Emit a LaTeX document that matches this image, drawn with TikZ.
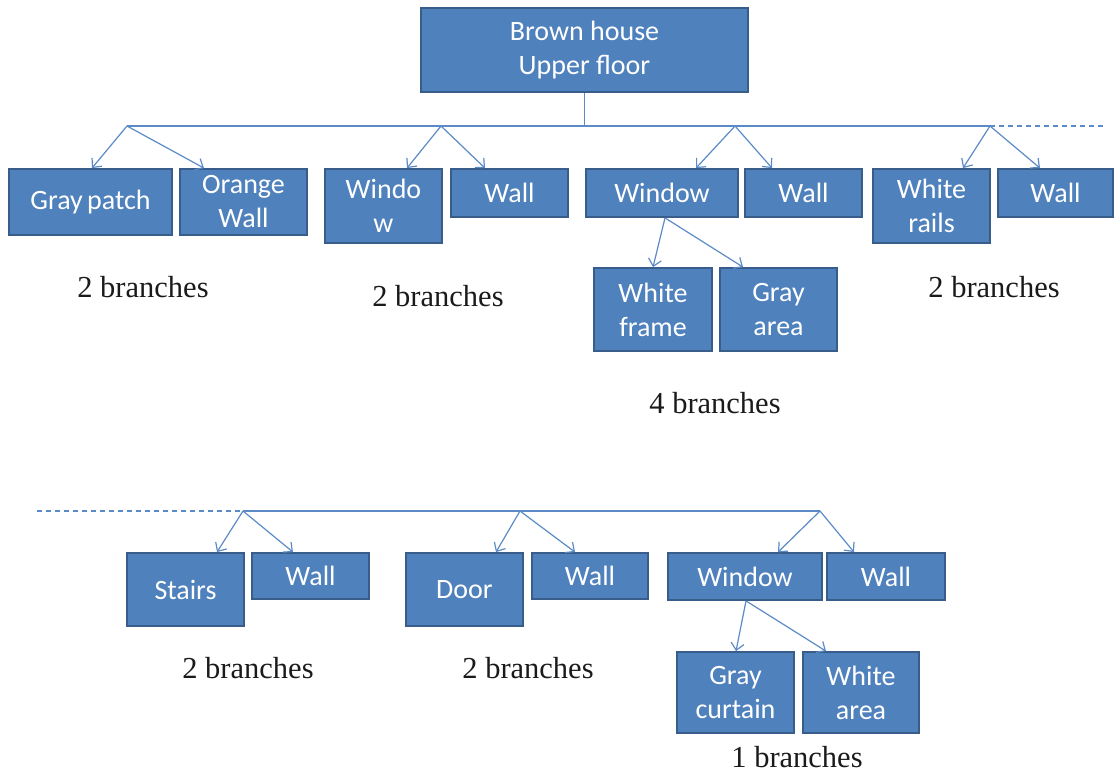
\documentclass[tikz,border=0pt]{standalone}
\usepackage{fontspec}
\newfontfamily\carlito{Carlito}
\newfontfamily\countfont{Liberation Serif}
\usetikzlibrary{arrows.meta}
\definecolor{boxfill}{HTML}{4F81BD}
\definecolor{boxedge}{HTML}{385D8A}
\definecolor{linkblue}{HTML}{5B8BC6}
\definecolor{labelink}{HTML}{1A1A1A}
\begin{document}
\begin{tikzpicture}[x=1pt,y=-1pt,
  part/.style={draw=boxedge, fill=boxfill, line width=1.8pt, text=white,
    font=\carlito\fontsize{28}{34}\selectfont, align=center, inner sep=0pt},
  link/.style={draw=linkblue, line width=1.2pt},
  arr/.style={link, -{Straight Barb[length=7pt,width=13pt,line width=1.2pt]}},
  rail/.style={link, dash pattern=on 5pt off 4pt},
  count/.style={text=labelink, font=\countfont\fontsize{30.5}{36}\selectfont, inner sep=0pt}]
\path[use as bounding box] (0,0) rectangle (1115,773);

% root
\node[part, minimum width=327, minimum height=84] (top) at (584.5,50) {Brown house\\Upper floor};

% first level, upper floor
\node[part, minimum width=163, minimum height=66] (gp)  at (90.5,202)  {Gray\hspace{-2pt} patch};
\node[part, minimum width=127, minimum height=66] (ow)  at (243.5,202) {Orange\\Wall};
\node[part, minimum width=117, minimum height=74] (wi1) at (383.5,206) {Windo\\w};
\node[part, minimum width=117, minimum height=48] (wa1) at (509.5,193) {Wall};
\node[part, minimum width=152, minimum height=48] (wi2) at (662,193)   {Window};
\node[part, minimum width=117, minimum height=48] (wa2) at (803.5,193) {Wall};
\node[part, minimum width=117, minimum height=74] (wr)  at (931.5,206) {White\\rails};
\node[part, minimum width=115, minimum height=48] (wa3) at (1055.5,193) {Wall};
\node[part, minimum width=118, minimum height=83] (wf)  at (653,309.5) {White\\frame};
\node[part, minimum width=117, minimum height=83] (gar) at (778.5,309.5) {Gray\\area};

% first level, lower row
\node[part, minimum width=117, minimum height=73] (st)  at (185.5,589.5) {Stairs};
\node[part, minimum width=117, minimum height=46] (wb1) at (310.5,576)   {Wall};
\node[part, minimum width=117, minimum height=73] (dr)  at (464.5,589.5) {Door};
\node[part, minimum width=116, minimum height=46] (wb2) at (590,576)     {Wall};
\node[part, minimum width=154, minimum height=47] (wi3) at (745,576.5)   {Window};
\node[part, minimum width=118, minimum height=47] (wb3) at (886,576.5)   {Wall};
\node[part, minimum width=117, minimum height=81] (gc)  at (735.5,692.5) {Gray\\curtain};
\node[part, minimum width=116, minimum height=81] (wha) at (861,692.5)   {White\\area};

% branch counts
\node[count] (n1) at (143,287) {2 branches};
\node[count] (n2) at (438,296) {2 branches};
\node[count] (n3) at (994,287) {2 branches};
\node[count] (n4) at (715,403) {4 branches};
\node[count] (n5) at (248,668) {2 branches};
\node[count] (n6) at (528,668) {2 branches};
\node[count] (n7) at (797,757) {1 branches};

% junction points
\coordinate (b1) at (127,126);
\coordinate (b2) at (441,126);
\coordinate (b3) at (735,126);
\coordinate (b4) at (990,126);
\coordinate (e1) at (1105,126);
\coordinate (c1) at (243,511);
\coordinate (c2) at (520,511);
\coordinate (c3) at (820,511);
\coordinate (e2) at (37,511);
\coordinate (e3) at (357,511);

% trunk lines
\draw[link] (top.south) -- (top.south |- b1);
\draw[link] (b1) -- (b4);
\draw[rail] (b4) -- (e1);
\draw[link] (c1) -- (c3);
\draw[rail] (e2) -- (e3);

% arrows, upper floor
\draw[arr] (b1) -- ([xshift=1.5pt]gp.north);
\draw[arr] (b1) -- ([xshift=-39.5pt]ow.north);
\draw[arr] (b2) -- ([xshift=23.5pt]wi1.north);
\draw[arr] (b2) -- ([xshift=-24.5pt]wa1.north);
\draw[arr] (b3) -- ([xshift=34pt]wi2.north);
\draw[arr] (b3) -- ([xshift=-31.5pt]wa2.north);
\draw[arr] (b4) -- ([xshift=31.5pt]wr.north);
\draw[arr] (b4) -- ([xshift=-15.5pt]wa3.north);
\draw[arr] ([xshift=3pt]wi2.south) -- (wf.north);
\draw[arr] ([xshift=3pt]wi2.south) -- ([xshift=-35.5pt]gar.north);

% arrows, lower row
\draw[arr] (c1) -- ([xshift=31.5pt]st.north);
\draw[arr] (c1) -- ([xshift=-17.5pt]wb1.north);
\draw[arr] (c2) -- ([xshift=31.5pt]dr.north);
\draw[arr] (c2) -- ([xshift=-15pt]wb2.north);
\draw[arr] (c3) -- ([xshift=33pt]wi3.north);
\draw[arr] (c3) -- ([xshift=-32pt]wb3.north);
\draw[arr] ([xshift=1pt]wi3.south) -- ([xshift=0.5pt]gc.north);
\draw[arr] ([xshift=1pt]wi3.south) -- ([xshift=-35pt]wha.north);
\end{tikzpicture}
\end{document}
